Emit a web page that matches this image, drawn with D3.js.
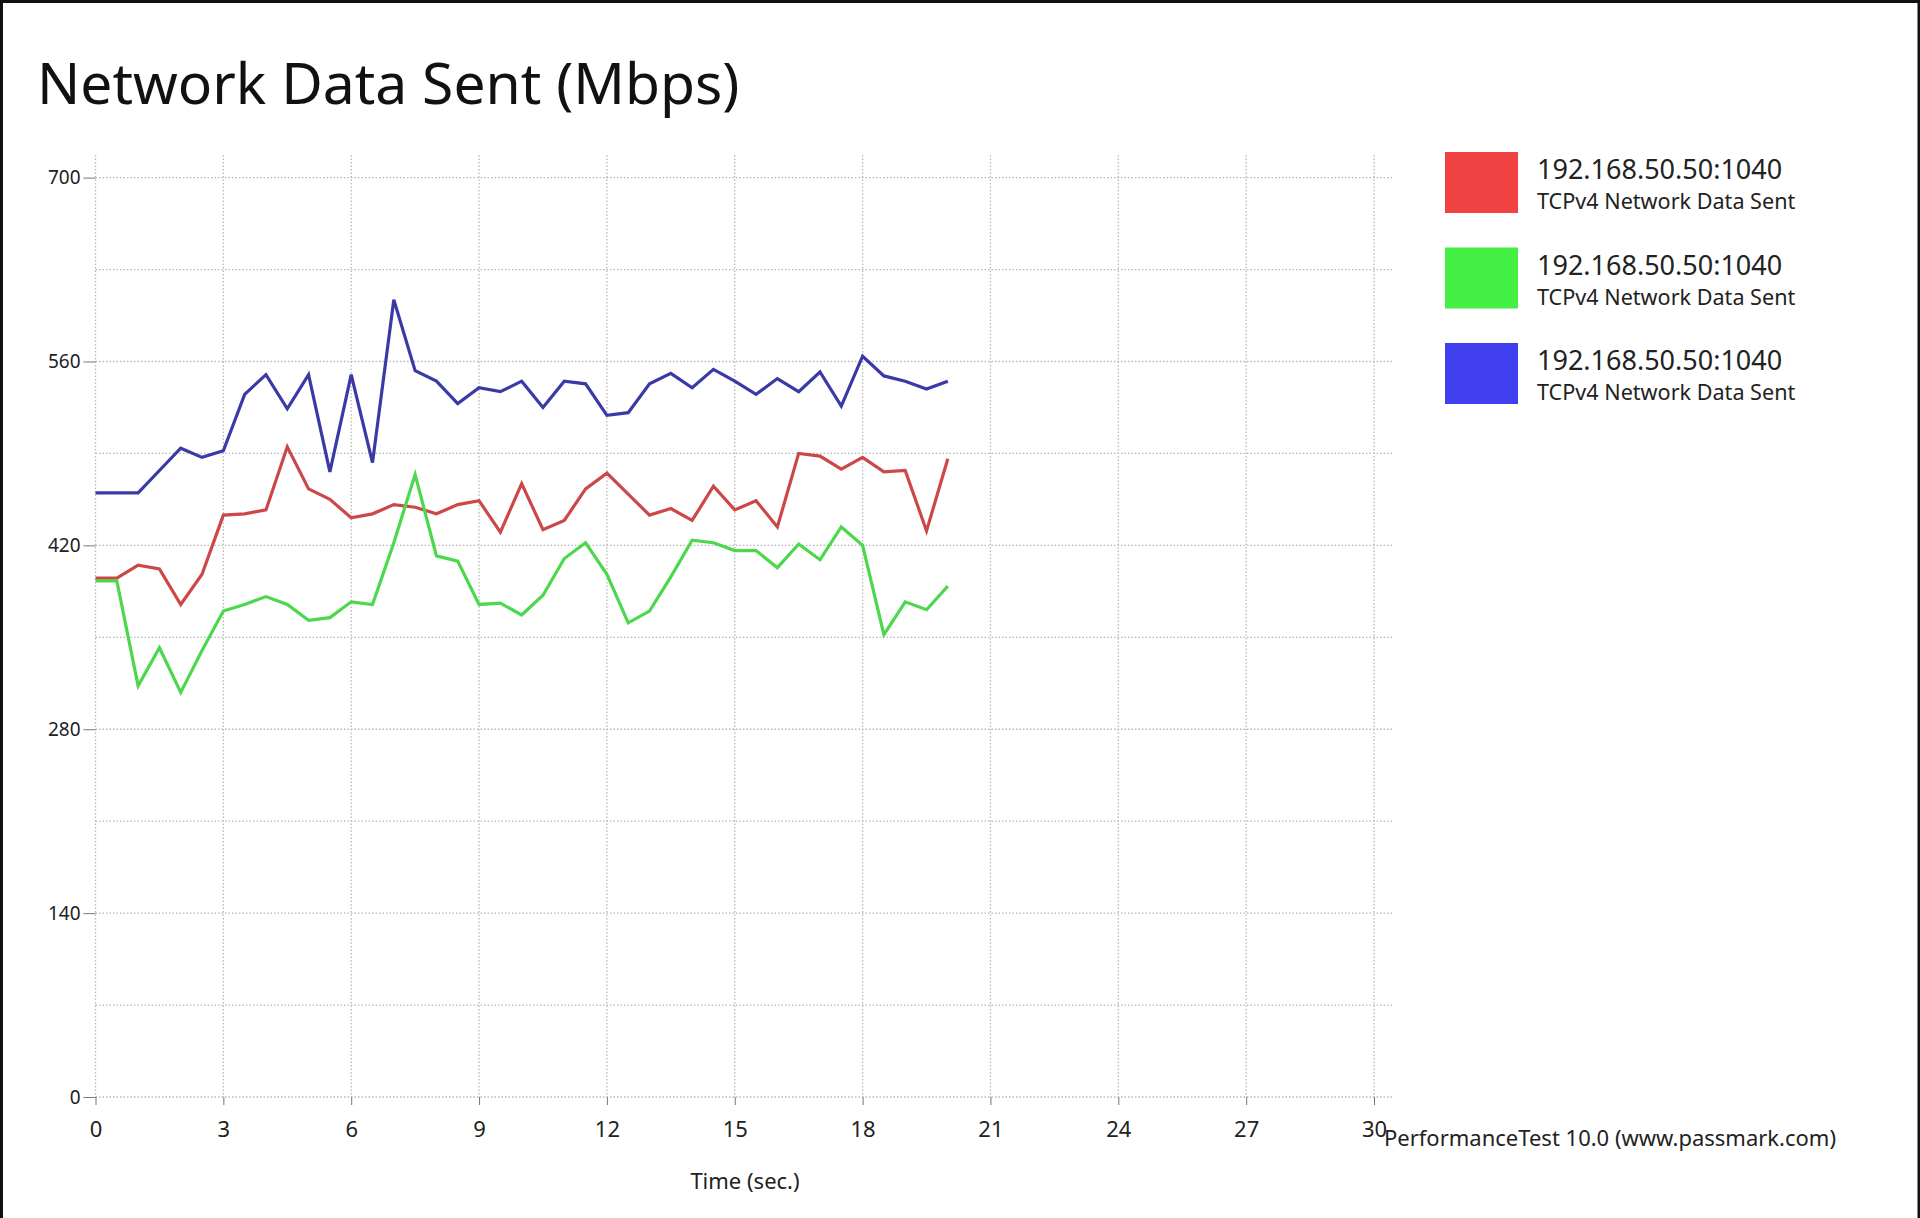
<!DOCTYPE html>
<html>
<head>
<meta charset="utf-8">
<script src="https://cdn.jsdelivr.net/npm/d3@7"></script>
<style>
  body { margin: 0; background: #fff; }
  svg { display: block; font-family: "Noto Sans", "Open Sans", sans-serif; }
</style>
</head>
<body>
<div id="chart"></div>
<script>
// sample times (sec.)
const times = [0, 0.5, 1, 1.5, 2, 2.5, 3, 3.5, 4, 4.5, 5, 5.5, 6, 6.5, 7, 7.5, 8, 8.5, 9, 9.5,
  10, 10.5, 11, 11.5, 12, 12.5, 13, 13.5, 14, 14.5, 15, 15.5, 16, 16.5, 17, 17.5, 18, 18.5, 19, 19.5, 20];

// Mbps per series
const redValues = [395, 395, 405, 402, 375, 398, 443, 444, 447, 495, 463, 455, 441, 444, 451, 449, 444, 451, 454, 430,
  467, 432, 439, 463, 475, 459, 443, 448, 439, 465, 447, 454, 434, 490, 488, 478, 487, 476, 477, 431, 486];
const greenValues = [393, 393, 313, 342, 308, 340, 370, 375, 381, 375, 363, 365, 377, 375, 422, 474, 412, 408, 375, 376,
  367, 382, 410, 422, 398, 361, 370, 396, 424, 422, 416, 416, 403, 421, 409, 434, 420, 352, 377, 371, 389];
const blueValues = [460, 460, 460, 477, 494, 487, 492, 535, 550, 524, 550, 476, 550, 483, 607, 553, 545, 528, 540, 537,
  545, 525, 545, 543, 519, 521, 543, 551, 540, 554, 545, 535, 547, 537, 552, 526, 564, 549, 545, 539, 545];

const seriesNames = ['192.168.50.50:1040', '192.168.50.50:1040', '192.168.50.50:1040'];
const seriesSub = 'TCPv4 Network Data Sent';
const xTicks = [0, 3, 6, 9, 12, 15, 18, 21, 24, 27, 30];
const yTicks = [0, 140, 280, 420, 560, 700];
const yGrid = [0, 70, 140, 210, 280, 350, 420, 490, 560, 630, 700];

const config = {
  width: 1920, height: 1218,
  left: 95.5, right: 1374, top: 177.6, bottom: 1097,
  gridRight: 1393, gridTop: 155
};

const series = [
  { name: seriesNames[0], values: redValues, line: '#cc4848', swatch: '#f04242' },
  { name: seriesNames[1], values: greenValues, line: '#4cd84c', swatch: '#44f044' },
  { name: seriesNames[2], values: blueValues, line: '#3a3aa6', swatch: '#4040f0' }
];

const svg = d3.select('#chart').append('svg')
  .attr('width', config.width)
  .attr('height', config.height);

// window frame: top, left and right edges only
svg.append('path')
  .attr('d', `M1.5,${config.height} V1.5 H${config.width - 1} V${config.height}`)
  .attr('fill', 'none')
  .attr('stroke', '#111')
  .attr('stroke-width', 3);

const x = d3.scaleLinear().domain([0, 30]).range([config.left, config.right]);
const y = d3.scaleLinear().domain([0, 700]).range([config.bottom, config.top]);

// title
svg.append('text')
  .attr('x', 37).attr('y', 104)
  .style('font-size', '57px')
  .attr('fill', '#111')
  .text('Network Data Sent (Mbps)');

// grid
const grid = svg.append('g');
grid.selectAll('.hgrid')
  .data(yGrid)
  .join('line')
  .attr('class', 'hgrid')
  .attr('x1', x(0)).attr('x2', config.gridRight)
  .attr('y1', d => y(d)).attr('y2', d => y(d))
  .attr('stroke', '#b8b8b8')
  .attr('stroke-width', 1.3)
  .attr('stroke-dasharray', '1.5,2');

grid.selectAll('.vgrid')
  .data(xTicks)
  .join('line')
  .attr('class', 'vgrid')
  .attr('x1', d => x(d)).attr('x2', d => x(d))
  .attr('y1', config.gridTop).attr('y2', config.bottom)
  .attr('stroke', '#b8b8b8')
  .attr('stroke-width', 1.3)
  .attr('stroke-dasharray', '1.5,2');

// axes (ticks + labels only)
const axisY = d3.axisLeft(y).tickValues(yTicks).tickSize(12).tickPadding(3);
svg.append('g')
  .attr('transform', `translate(${x(0)},0)`)
  .call(axisY)
  .call(g => g.select('.domain').remove())
  .call(g => g.selectAll('line').attr('stroke', '#777'))
  .call(g => g.selectAll('text').attr('fill', '#222').style('font-size', '19px').style('font-family', '"Noto Sans", sans-serif'));

const axisX = d3.axisBottom(x).tickValues(xTicks).tickSize(8).tickPadding(16);
svg.append('g')
  .attr('transform', `translate(0,${config.bottom})`)
  .call(axisX)
  .call(g => g.select('.domain').remove())
  .call(g => g.selectAll('line').attr('stroke', '#777'))
  .call(g => g.selectAll('text').attr('fill', '#222').style('font-size', '22px').style('font-family', '"Noto Sans", sans-serif'));

svg.append('text')
  .attr('x', 745).attr('y', 1189)
  .attr('text-anchor', 'middle')
  .style('font-size', '22px')
  .attr('fill', '#222')
  .text('Time (sec.)');

svg.append('text')
  .attr('x', 1384).attr('y', 1146)
  .style('font-size', '22px')
  .attr('fill', '#222')
  .text('PerformanceTest 10.0 (www.passmark.com)');

// lines
const line = d3.line()
  .x((d, i) => x(times[i]))
  .y(d => y(d));

svg.selectAll('.series-path')
  .data(series)
  .join('path')
  .attr('class', 'series-path')
  .attr('d', d => line(d.values))
  .attr('fill', 'none')
  .attr('stroke', d => d.line)
  .attr('stroke-width', 3.2)
  .attr('stroke-linejoin', 'miter');

// legend
const legend = svg.selectAll('.legend-item')
  .data(series)
  .join('g')
  .attr('class', 'legend-item')
  .attr('transform', (d, i) => `translate(1445, ${152 + i * 95.5})`);

legend.append('rect')
  .attr('width', 73).attr('height', 61)
  .attr('fill', d => d.swatch);

legend.append('text')
  .attr('x', 92).attr('y', 27)
  .style('font-size', '27px')
  .attr('fill', '#222')
  .text(d => d.name);

legend.append('text')
  .attr('x', 92).attr('y', 57)
  .style('font-size', '21.6px')
  .attr('fill', '#222')
  .text(seriesSub);
</script>
</body>
</html>
